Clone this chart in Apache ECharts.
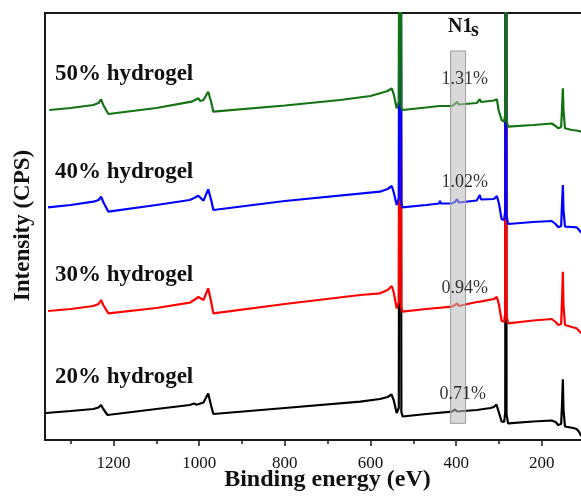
<!DOCTYPE html>
<html>
<head>
<meta charset="utf-8">
<script src="https://cdn.jsdelivr.net/npm/echarts@6/dist/echarts.min.js"></script>
<style>
html,body{margin:0;padding:0;background:#fff;}
#chart{width:581px;height:498px;}
</style>
</head>
<body>
<div id="chart"></div>
<script>
// ---- data (binding energy eV, intensity in arbitrary stacked units) ----
const spectrum20 = [[1358,27],[1300,29],[1247,31],[1235,32.5],[1229,35],[1224,31],[1214,25],[1100,31],[1022,35],[1012,36.5],[1006,35.3],[990,37.5],[979,46.5],[972,34],[967,26],[800,32],[624,38.3],[578,41],[560,43],[551,45.5],[546,40],[539,27],[534,32],[531,1000],[528,28],[525,23.5],[470,26],[410,28.3],[403,30.5],[398,28.5],[352,30],[348,31.7],[344,30.5],[320,32],[312,33],[306,35.5],[300,27],[294,18.5],[288,18],[285.5,28],[284,1000],[282.5,26],[279,16.7],[220,18.5],[177,19.5],[173,21.5],[168,18],[162,15],[155,16],[153,35],[151,60.7],[149.5,30],[146,13.5],[127,12],[119,11],[113,8],[108,4]];
const spectrum30 = [[1353,129],[1300,131],[1247,134],[1235,136],[1229,140],[1224,135],[1212,126.7],[1100,132],[1022,137.3],[1012,140],[1002,143],[990,140],[979,151.7],[972,138],[967,126.7],[800,136],[624,145],[578,146.7],[560,150],[550.5,154],[546,148],[539,131.7],[534,138],[531,1000],[528,133],[526,128.3],[470,131],[410,133.3],[403,135],[398,136.7],[394,134],[352,138],[348,139.3],[344,138.3],[312,141],[305,143],[300,135],[294,119],[288,118.3],[285.5,128],[284,1000],[282.5,125],[279,116.7],[220,119.5],[177,121],[173,121.7],[168,118],[161.5,115],[155,116],[153,140],[151,168.3],[149.5,135],[146,115],[130,113],[119,111.7],[113,109],[108,106.7]];
const spectrum40 = [[1353,232.7],[1300,235],[1247,238.3],[1235,240],[1229,243.3],[1224,238],[1212,228.3],[1100,235],[1022,240],[1012,242],[1002,244.3],[990,239.3],[979,250.7],[972,240],[967,230],[800,239],[578,248.3],[560,251],[550.5,254],[546,248],[539,235],[534,242],[531,1000],[528,238],[526,232.7],[470,235],[440,236.5],[438,239.3],[436,236.5],[410,236.7],[403,238],[398,240.7],[394,237.5],[352,239.5],[348,240],[345,245],[342,240.5],[312,241],[305,244],[300,236],[294,221],[288,220],[285.5,230],[284,1000],[282.5,225],[279,216],[220,218],[177,219],[173,219.3],[168,216],[161.5,212.7],[155,214],[153,235],[151,255],[149.5,230],[146,213.3],[130,213],[119,212.7],[113,210],[108,207.3]];
const spectrum50 = [[1350,330],[1300,332],[1247,335],[1235,337],[1229,340.7],[1224,335],[1212,326],[1100,332],[1018,338.3],[1002,341.7],[998,339],[990,340],[979,348.3],[972,338],[967,328.3],[800,334.5],[671,340],[600,344],[578,346.7],[560,349],[550.5,351.7],[546,346],[539,331.7],[534,338],[531,1000],[528,333],[526,330],[470,332.5],[440,334],[438,335.7],[436,334],[410,334],[403,336],[398,338.3],[394,335.5],[352,337],[348,338],[345,340.7],[342,338],[312,339.5],[305,340.7],[301,330],[294,320],[288,318.3],[285.5,326],[284,1000],[282.5,320],[279,313.3],[220,315],[177,316.5],[173,316.7],[168,314],[161.5,311.7],[155,313],[153,330],[151,351.7],[149.5,330],[146,311.7],[130,310],[119,309.5],[108,308.3]];

const seriesNames = ['20% hydrogel','30% hydrogel','40% hydrogel','50% hydrogel'];
const seriesColors = ['#000000','#ff0000','#0000ff','#137313'];
const n1sPercent = ['0.71%','0.94%','1.02%','1.31%'];
const n1sPercentE = [385, 380, 380, 380];
const n1sPercentY = [45.5, 151.3, 258, 360.5];
const n1sBand = [[413, 378, 16.7, 389]]; // [E from, E to, intensity from, intensity to]

const majorTicks = [200, 400, 600, 800, 1000, 1200];
const minorTicks = [300, 500, 700, 900, 1100, 1300];
const tickLabels = [200, 400, 600, 800, 1000, 1200];

const serif = '"Liberation Serif","Times New Roman",serif';
const chart = echarts.init(document.getElementById('chart'), null, {renderer:'canvas'});

const spectra = [spectrum20, spectrum30, spectrum40, spectrum50];
const lineSeries = spectra.map((d, i) => ({
  type: 'line', name: seriesNames[i], data: d, showSymbol: false, symbol: 'none',
  lineStyle: {color: seriesColors[i], width: 2.2}, z: 2 + i, clip: true, xAxisIndex: 0
}));

const labelY = [377.2, 275.3, 172.2, 74.5];

const option = {
  animation: false,
  backgroundColor: '#ffffff',
  grid: {left: 45, top: 13, width: 539.7, height: 427, show: true, borderColor: '#1a1a1a', borderWidth: 2,
    backgroundColor: 'transparent', outerBoundsMode: 'none', containLabel: false},
  xAxis: [{
    type: 'value', min: 100, max: 1360, inverse: true,
    axisLine: {show: false}, splitLine: {show: false},
    axisTick: {show: true, length: 6, lineStyle: {color: '#1a1a1a', width: 1.5}, customValues: majorTicks},
    axisLabel: {customValues: tickLabels, formatter: function (v) { return String(v); },
      fontFamily: serif, fontSize: 17, color: '#111', margin: 15}
  }, {
    type: 'value', min: 100, max: 1360, inverse: true, position: 'bottom',
    axisLine: {show: false}, splitLine: {show: false},
    axisTick: {show: true, length: 4, lineStyle: {color: '#1a1a1a', width: 1.5}, customValues: minorTicks},
    axisLabel: {show: false}
  }],
  yAxis: {type: 'value', min: 0, max: 427, show: false},
  series: lineSeries.concat([
    {
      type: 'custom', z: 10, xAxisIndex: 0,
      dimensions: ['e0','e1','v0','v1'],
      encode: {x: [0, 1], y: [2, 3]},
      data: n1sBand,
      renderItem: function (params, api) {
        const p0 = api.coord([api.value(0), api.value(3)]);
        const p1 = api.coord([api.value(1), api.value(2)]);
        return {type: 'rect', shape: {x: p0[0], y: p0[1], width: p1[0] - p0[0], height: p1[1] - p0[1]},
          style: {fill: 'rgba(190,190,190,0.58)', stroke: '#9a9a9a', lineWidth: 1}};
      }
    },
    {
      type: 'scatter', z: 12, xAxisIndex: 0, symbolSize: 0,
      data: n1sPercent.map((t, i) => ({name: t, value: [n1sPercentE[i], n1sPercentY[i]]})),
      label: {show: true, position: 'inside', formatter: '{b}', fontFamily: serif, fontSize: 18,
        color: '#000', textBorderWidth: 0, textShadowBlur: 0}
    }
  ]),
  graphic: [
    ...seriesNames.map((t, i) => ({type: 'text', x: 55, y: labelY[i], z: 20,
      style: {text: t, align: 'left', verticalAlign: 'middle', font: 'bold 23px ' + serif, fill: '#111'}})),
    {type: 'text', x: 448, y: 26.7, z: 20, style: {text: 'N1', align: 'left', verticalAlign: 'middle', font: 'bold 20px ' + serif, fill: '#111'}},
    {type: 'text', x: 471, y: 30.5, z: 20, style: {text: 's', align: 'left', verticalAlign: 'middle', font: 'bold 20px ' + serif, fill: '#111'}},
    {type: 'text', x: 327.5, y: 479.7, z: 20, style: {text: 'Binding energy (eV)', align: 'center', verticalAlign: 'middle', font: 'bold 24px ' + serif, fill: '#111'}},
    {type: 'text', x: 23.5, y: 225.5, rotation: Math.PI / 2, z: 20, style: {text: 'Intensity (CPS)', align: 'center', verticalAlign: 'middle', font: 'bold 23px ' + serif, fill: '#111'}}
  ]
};
chart.setOption(option);
</script>
</body>
</html>
